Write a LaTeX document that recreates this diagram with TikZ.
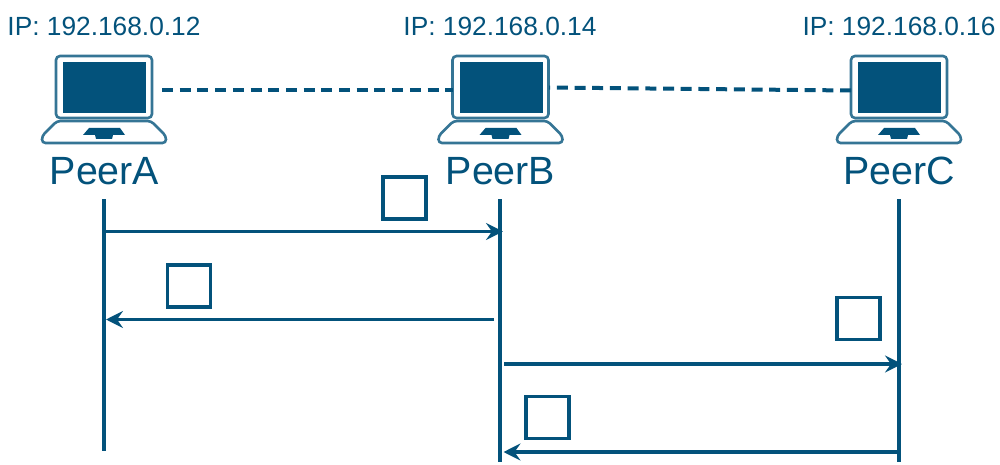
\documentclass[tikz,border=0pt]{standalone}
\usepackage{fontspec}
\setmainfont{Liberation Sans}
\usetikzlibrary{arrows.meta}
\definecolor{peerblue}{HTML}{03527B}
\tikzset{
  x=1pt,y=-1pt,
  every node/.style={text=peerblue,inner sep=0pt,outer sep=0pt},
  iplabel/.style={font=\fontsize{26.3}{26.3}\selectfont,anchor=base},
  peerlabel/.style={font=\fontsize{39.4}{39.4}\selectfont,anchor=base},
  lifeline/.style={draw=peerblue,line width=3.1pt},
  message/.style={draw=peerblue,line width=3.1pt,-{Stealth[length=17pt,width=17pt,inset=6pt]}},
  link/.style={draw=peerblue,line width=4pt,dash pattern=on 11pt off 6.7pt},
  packet/.style={draw=peerblue,line width=3.2pt,fill=white,minimum width=43pt,minimum height=42pt,anchor=north west},
  bezel/.style={draw=peerblue!80!white,line width=2.6pt,rounded corners=4pt,minimum width=96pt,minimum height=62pt,anchor=north west},
  deck/.style={draw=peerblue!80!white,line width=2.6pt,rounded corners=3.5pt},
  panel/.style={fill=peerblue,draw=none},
  laptop/.pic={
    \fill[panel] (63,62) rectangle (146,113);
    \draw[deck] (57,121) -- (151,121) -- (166,136) -- (166,143) -- (42,143) -- (42,136) -- cycle;
    \fill[panel] (89,128) -- (120,128) -- (125,135) -- (113,135) -- (112,139) -- (96,139) -- (95,135) -- (83,135) -- cycle;
  }
}
\begin{document}
\begin{tikzpicture}
\useasboundingbox (0,0) rectangle (1000,465);
% laptops
\pic at (0,0) {laptop};
\pic at (396.5,0) {laptop};
\pic at (795,0) {laptop};
\node[bezel] (lapA) at (56,56) {};
\node[bezel] (lapB) at (452.5,56) {};
\node[bezel] (lapC) at (851,56) {};
% labels
\node[iplabel] (ipA) at (104,36) {IP: 192.168.0.12};
\node[iplabel] (ipB) at (500,36) {IP: 192.168.0.14};
\node[iplabel] (ipC) at (899,36) {IP: 192.168.0.16};
\node[peerlabel] (nameA) at (104.5,185) {PeerA};
\node[peerlabel] (nameB) at (500.5,185) {PeerB};
\node[peerlabel] (nameC) at (899.5,185) {PeerC};
% dashed links
\coordinate (la1) at (162,90.5);
\coordinate (lb1) at (452.5,90.5);
\coordinate (lb2) at (549,87.5);
\coordinate (lc2) at (851,90.5);
\draw[link] (la1) -- (lb1);
\draw[link] (lc2) -- (lb2);
% lifelines
\coordinate (topA) at (104,199);
\coordinate (botA) at (104,451);
\coordinate (topB) at (500,199);
\coordinate (botB) at (500,462);
\coordinate (topC) at (899,199);
\coordinate (botC) at (899,462);
\draw[lifeline] (topA) -- (botA);
\draw[lifeline] (topB) -- (botB);
\draw[lifeline] (topC) -- (botC);
% messages
\coordinate (m1s) at (106,231.5);
\coordinate (m1e) at (503,231.5);
\coordinate (m2s) at (494,319.5);
\coordinate (m2e) at (106,319.5);
\coordinate (m3s) at (504,364);
\coordinate (m3e) at (902,364);
\coordinate (m4s) at (899,452);
\coordinate (m4e) at (503.5,452);
\draw[message] (m1s) -- (m1e);
\draw[message] (m2s) -- (m2e);
\draw[message] (m3s) -- (m3e);
\draw[message] (m4s) -- (m4e);
% packets
\node[packet] (p1) at (383,177) {};
\node[packet] (p2) at (167.5,265) {};
\node[packet] (p3) at (837,297.5) {};
\node[packet] (p4) at (526,396.5) {};
\end{tikzpicture}
\end{document}
